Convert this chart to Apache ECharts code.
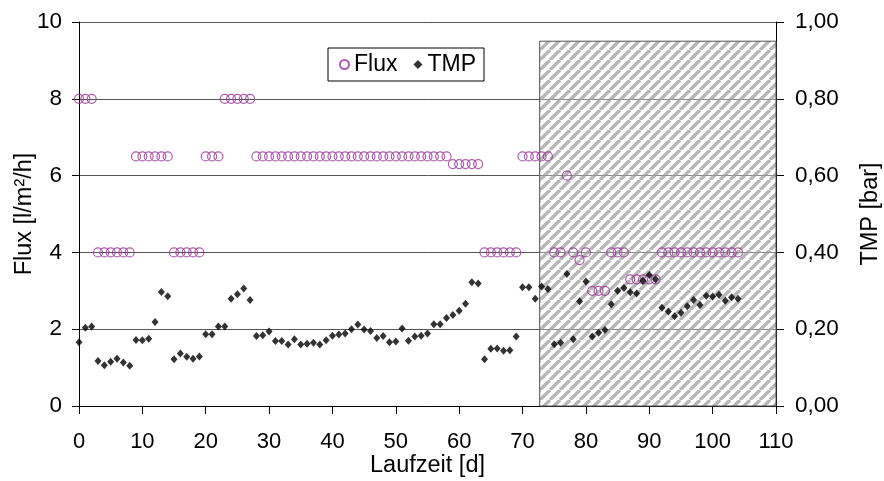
<!DOCTYPE html>
<html>
<head>
<meta charset="utf-8">
<script src="https://cdn.jsdelivr.net/npm/echarts@6/dist/echarts.min.js"></script>
<style>
  html, body { margin: 0; padding: 0; background: #fff; }
  #container { width: 884px; height: 481px; }
</style>
</head>
<body>
<div id="container"></div>
<script>
// Laufzeit [d]
var days = [0,1,2,3,4,5,6,7,8,9,10,11,12,13,14,15,16,17,18,19,20,21,22,23,24,25,26,27,28,29,
    30,31,32,33,34,35,36,37,38,39,40,41,42,43,44,45,46,47,48,49,50,51,52,53,54,55,56,57,58,59,
    60,61,62,63,64,65,66,67,68,69,70,71,72,73,74,75,76,77,78,79,80,81,82,83,84,85,86,87,88,89,
    90,91,92,93,94,95,96,97,98,99,100,101,102,103,104];
// Flux [l/m²/h]
var flux = [8,8,8,4,4,4,4,4,4,6.5,6.5,6.5,6.5,6.5,6.5,4,4,4,4,4,6.5,6.5,6.5,8,8,8,8,8,6.5,6.5,
    6.5,6.5,6.5,6.5,6.5,6.5,6.5,6.5,6.5,6.5,6.5,6.5,6.5,6.5,6.5,6.5,6.5,6.5,6.5,6.5,6.5,6.5,6.5,6.5,6.5,6.5,6.5,6.5,6.5,6.3,
    6.3,6.3,6.3,6.3,4,4,4,4,4,4,6.5,6.5,6.5,6.5,6.5,4,4,6,4,3.8,4,3,3,3,4,4,4,3.3,3.3,3.3,
    3.3,3.3,4,4,4,4,4,4,4,4,4,4,4,4,4];
// TMP [bar]
var tmp = [0.166,0.204,0.207,0.117,0.106,0.115,0.123,0.113,0.105,0.172,0.171,0.175,0.219,0.297,0.286,
    0.122,0.137,0.128,0.123,0.129,0.187,0.187,0.207,0.207,0.279,0.291,0.306,0.276,0.182,0.184,
    0.194,0.169,0.169,0.160,0.174,0.160,0.162,0.165,0.160,0.171,0.183,0.186,0.189,0.200,0.212,
    0.199,0.195,0.177,0.182,0.166,0.168,0.202,0.170,0.181,0.183,0.189,0.213,0.213,0.229,0.237,
    0.248,0.266,0.322,0.319,0.122,0.149,0.150,0.144,0.145,0.181,0.309,0.309,0.279,0.311,0.305,
    0.161,0.165,0.344,0.174,0.273,0.324,0.181,0.191,0.198,0.265,0.300,0.307,0.296,0.293,0.326,
    0.341,0.330,0.256,0.246,0.234,0.243,0.260,0.276,0.263,0.287,0.285,0.290,0.274,0.283,0.279];
// hatched range (days / flux axis)
var hatchFrom = 72.7, hatchTo = 110, hatchTop = 9.5;

var font = "'Liberation Sans', Arial, sans-serif";

function hatchPattern() {
    var s = 10;
    var c = document.createElement('canvas');
    c.width = s; c.height = s;
    var ctx = c.getContext('2d');
    ctx.fillStyle = 'rgba(255,255,255,0.3)';
    ctx.fillRect(0, 0, s, s);
    ctx.strokeStyle = 'rgba(155,155,155,0.72)';
    ctx.lineWidth = 3.4;
    for (var k = -1; k <= 1; k++) {
        ctx.beginPath();
        ctx.moveTo(k * s, s);
        ctx.lineTo(k * s + s, 0);
        ctx.stroke();
    }
    return c;
}

var fluxData = days.map(function (d, i) { return [d, flux[i]]; });
var tmpData = days.map(function (d, i) { return [d, tmp[i]]; });

var chart = echarts.init(document.getElementById('container'));
var option = {
    animation: false,
    textStyle: { fontFamily: font },
    grid: { left: 79, right: 108, top: 22, bottom: 75, containLabel: false, outerBoundsMode: 'none' },
    legend: {
        data: ['Flux', 'TMP'],
        left: 328, top: 48,
        padding: [5, 8, 5, 11],
        itemWidth: 9, itemHeight: 9,
        itemGap: 16,
        borderColor: '#000', borderWidth: 1,
        backgroundColor: '#fff',
        textStyle: { fontSize: 23, color: '#000', fontFamily: font }
    },
    xAxis: {
        type: 'value', min: 0, max: 110, interval: 10,
        name: 'Laufzeit [d]', nameLocation: 'middle', nameGap: 48, nameMoveOverlap: false,
        nameTextStyle: { fontSize: 23.5, color: '#000' },
        axisLine: { lineStyle: { color: '#000' } },
        axisTick: { length: 8, lineStyle: { color: '#000' } },
        axisLabel: { fontSize: 22, color: '#000', margin: 25 },
        splitLine: { show: false }
    },
    yAxis: [{
        type: 'value', min: 0, max: 10, interval: 2,
        name: 'Flux [l/m²/h]', nameLocation: 'middle', nameGap: 42, nameRotate: 90,
        nameMoveOverlap: false,
        nameTextStyle: { fontSize: 23.5, color: '#000' },
        axisLine: { show: true, lineStyle: { color: '#000' } },
        axisTick: { show: true, length: 7, lineStyle: { color: '#000' } },
        axisLabel: { fontSize: 22.5, color: '#000', margin: 17 },
        splitLine: { show: true, lineStyle: { color: '#555', width: 1 } }
    }, {
        type: 'value', min: 0, max: 1, interval: 0.2, position: 'right',
        name: 'TMP [bar]', nameLocation: 'middle', nameGap: 83, nameRotate: 90,
        nameMoveOverlap: false,
        nameTextStyle: { fontSize: 23.5, color: '#000' },
        axisLine: { show: true, lineStyle: { color: '#000' } },
        axisTick: { show: true, length: 8, lineStyle: { color: '#000' } },
        axisLabel: {
            fontSize: 22.5, color: '#000', margin: 19,
            formatter: function (v) { return v.toFixed(2).replace('.', ','); }
        },
        splitLine: { show: false }
    }],
    series: [{
        name: 'Flux', type: 'scatter', yAxisIndex: 0,
        symbol: 'circle', symbolSize: 9,
        itemStyle: { color: 'rgba(0,0,0,0)', borderColor: '#993399', borderWidth: 1.2 },
        data: fluxData, z: 2
    }, {
        name: 'TMP', type: 'scatter', yAxisIndex: 1,
        symbol: 'diamond', symbolSize: [7, 8],
        itemStyle: { color: '#000' },
        data: tmpData, z: 3
    }, {
        name: 'hatch', type: 'scatter', yAxisIndex: 0, data: [], z: 5, silent: true,
        markArea: {
            silent: true,
            itemStyle: {
                color: { image: hatchPattern(), repeat: 'repeat' },
                borderColor: '#555', borderWidth: 1
            },
            data: [[{ xAxis: hatchFrom, yAxis: 0 }, { xAxis: hatchTo, yAxis: hatchTop }]]
        }
    }]
};
chart.setOption(option);
</script>
</body>
</html>
